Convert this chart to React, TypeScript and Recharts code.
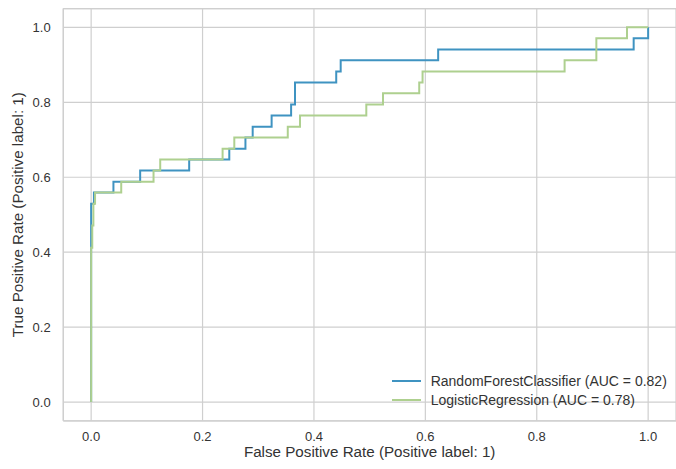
import React from 'react';
import {
  LineChart,
  Line,
  XAxis,
  YAxis,
  CartesianGrid,
  ReferenceLine,
  Legend,
} from 'recharts';

// ROC curve vertices (false positive rate, true positive rate) for each model
const rfFpr = [
  0, 0, 0.005, 0.005, 0.04, 0.04, 0.088, 0.088, 0.176, 0.176, 0.248, 0.248,
  0.277, 0.277, 0.29, 0.29, 0.324, 0.324, 0.359, 0.359, 0.366, 0.366, 0.44,
  0.44, 0.448, 0.448, 0.623, 0.623, 0.974, 0.974, 1, 1,
];
const rfTpr = [
  0, 0.529, 0.529, 0.559, 0.559, 0.588, 0.588, 0.618, 0.618, 0.647, 0.647,
  0.676, 0.676, 0.706, 0.706, 0.735, 0.735, 0.765, 0.765, 0.794, 0.794, 0.853,
  0.853, 0.882, 0.882, 0.912, 0.912, 0.941, 0.941, 0.971, 0.971, 1,
];

const lrFpr = [
  0, 0, 0.002, 0.002, 0.004, 0.004, 0.007, 0.007, 0.054, 0.054, 0.112, 0.112,
  0.124, 0.124, 0.236, 0.236, 0.257, 0.257, 0.353, 0.353, 0.375, 0.375, 0.494,
  0.494, 0.524, 0.524, 0.589, 0.589, 0.595, 0.595, 0.85, 0.85, 0.907, 0.907,
  0.962, 0.962, 1,
];
const lrTpr = [
  0, 0.412, 0.412, 0.471, 0.471, 0.529, 0.529, 0.559, 0.559, 0.588, 0.588,
  0.618, 0.618, 0.647, 0.647, 0.676, 0.676, 0.706, 0.706, 0.735, 0.735, 0.765,
  0.765, 0.794, 0.794, 0.824, 0.824, 0.853, 0.853, 0.882, 0.882, 0.912, 0.912,
  0.971, 0.971, 1, 1,
];

const seriesNames = [
  'RandomForestClassifier (AUC = 0.82)',
  'LogisticRegression (AUC = 0.78)',
];
const seriesColors = ['#3f93c1', '#aed08f'];

const axisTicks = [0, 0.2, 0.4, 0.6, 0.8, 1.0];
const xLabel = 'False Positive Rate (Positive label: 1)';
const yLabel = 'True Positive Rate (Positive label: 1)';

const toPoints = (xs: number[], ys: number[]) =>
  xs.map((x, i) => ({ fpr: x, tpr: ys[i] }));

const rfData = toPoints(rfFpr, rfTpr);
const lrData = toPoints(lrFpr, lrTpr);

const FONT = '"Liberation Sans", Arial, Helvetica, sans-serif';
const TEXT = '#333333';
const GRID = '#cfcfcf';

// Legend entries in the order the curves were added
const renderLegend = () => (
  <div style={{ fontFamily: FONT, fontSize: 14, color: TEXT }}>
    {seriesNames.map((name, i) => (
      <div
        key={name}
        style={{ display: 'flex', alignItems: 'center', height: 19 }}
      >
        <svg width={29} height={4} style={{ marginRight: 10, flex: 'none' }}>
          <line x1={0} y1={2} x2={29} y2={2} stroke={seriesColors[i]} strokeWidth={2} />
        </svg>
        <span style={{ whiteSpace: 'nowrap' }}>{name}</span>
      </div>
    ))}
  </div>
);

const XTitle = (props: any) => {
  const vb = props.viewBox || {};
  return (
    <text
      x={vb.x + vb.width / 2}
      y={vb.y + 36}
      textAnchor="middle"
      fontFamily={FONT}
      fontSize={15.2}
      fill={TEXT}
    >
      {xLabel}
    </text>
  );
};

const YTitle = (props: any) => {
  const vb = props.viewBox || {};
  const cx = 23.2;
  const cy = vb.y + vb.height / 2;
  return (
    <text
      x={cx}
      y={cy}
      transform={`rotate(-90, ${cx}, ${cy})`}
      textAnchor="middle"
      fontFamily={FONT}
      fontSize={15.2}
      fill={TEXT}
    >
      {yLabel}
    </text>
  );
};

export default function App() {
  const tickStyle = { fill: TEXT, fontSize: 13, fontFamily: FONT };
  const frame = { stroke: GRID, strokeWidth: 1.3 };
  return (
    <div style={{ position: 'fixed', left: 0, top: 0, background: '#fff' }}>
      <LineChart
        width={676}
        height={469}
        margin={{ top: 8.6, right: 0, bottom: 0, left: 0 }}
      >
        <CartesianGrid stroke={GRID} strokeWidth={1.2} />
        <ReferenceLine x={-0.05} {...frame} />
        <ReferenceLine y={-0.05} {...frame} />
        <ReferenceLine y={1.05} {...frame} />
        <XAxis
          type="number"
          dataKey="fpr"
          domain={[-0.05, 1.05]}
          ticks={axisTicks}
          tickFormatter={(v: number) => v.toFixed(1)}
          allowDataOverflow
          axisLine={false}
          tickLine={false}
          tickSize={0}
          tickMargin={10.6}
          height={48.2}
          tick={tickStyle}
          label={{ content: XTitle }}
        />
        <YAxis
          type="number"
          dataKey="tpr"
          domain={[-0.05, 1.05]}
          ticks={axisTicks}
          tickFormatter={(v: number) => v.toFixed(1)}
          allowDataOverflow
          axisLine={false}
          tickLine={false}
          tickSize={0}
          tickMargin={12.6}
          width={63.3}
          tick={tickStyle}
          label={{ content: YTitle }}
        />
        <Line
          data={rfData}
          dataKey="tpr"
          name={seriesNames[0]}
          type="linear"
          stroke={seriesColors[0]}
          strokeWidth={2}
          dot={false}
          activeDot={false}
          isAnimationActive={false}
        />
        <Line
          data={lrData}
          dataKey="tpr"
          name={seriesNames[1]}
          type="linear"
          stroke={seriesColors[1]}
          strokeWidth={2}
          dot={false}
          activeDot={false}
          isAnimationActive={false}
        />
        <Legend
          layout="horizontal"
          verticalAlign="middle"
          align="center"
          content={renderLegend}
          wrapperStyle={{
            position: 'absolute',
            left: 391.7,
            top: 371.5,
            width: 'auto',
            height: 'auto',
          }}
        />
      </LineChart>
    </div>
  );
}
